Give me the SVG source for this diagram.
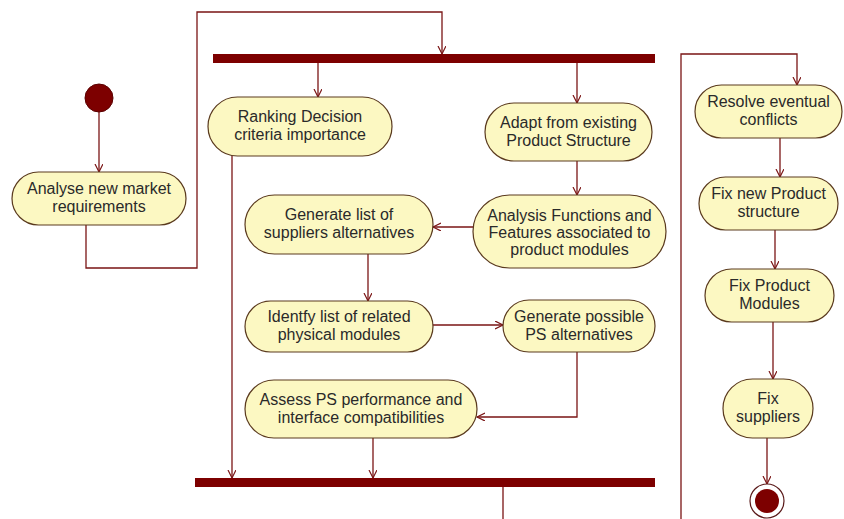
<svg xmlns="http://www.w3.org/2000/svg" width="844" height="519" viewBox="0 0 844 519">
<defs>
<marker id="arr" markerWidth="10" markerHeight="10" refX="8" refY="4" orient="auto" markerUnits="userSpaceOnUse">
<path d="M0,0 L8,4 L0,8" fill="none" stroke="#7a1515" stroke-width="1.2"/>
</marker>
<style>
.act{fill:#fcf8c2;stroke:#5a3a1e;stroke-width:1.2}
.bar{fill:#7d0000}
.t{font-family:"Liberation Sans",Arial,sans-serif;font-size:16px;fill:#2a2a2a;text-anchor:middle}
.c{fill:none;stroke:#7a1515;stroke-width:1.3}
</style>
</defs>
<rect width="844" height="519" fill="#ffffff"/>
<g id="connectors">
<path class="c" d="M99,112 V172" marker-end="url(#arr)"/>
<path class="c" d="M86,225 V268 H197 V12 H442 V54" marker-end="url(#arr)"/>
<path class="c" d="M318,63 V97" marker-end="url(#arr)"/>
<path class="c" d="M577,63 V103" marker-end="url(#arr)"/>
<path class="c" d="M577,161 V195" marker-end="url(#arr)"/>
<path class="c" d="M473,227 H433" marker-end="url(#arr)"/>
<path class="c" d="M368,254 V301" marker-end="url(#arr)"/>
<path class="c" d="M433,325 H503" marker-end="url(#arr)"/>
<path class="c" d="M577,352 V417 H477" marker-end="url(#arr)"/>
<path class="c" d="M373,438 V478" marker-end="url(#arr)"/>
<path class="c" d="M232,156 V478" marker-end="url(#arr)"/>
<path class="c" d="M503,487 V530 H681 V54 H797 V85" marker-end="url(#arr)"/>
<path class="c" d="M780,138 V177" marker-end="url(#arr)"/>
<path class="c" d="M775,230 V269" marker-end="url(#arr)"/>
<path class="c" d="M773,322 V379" marker-end="url(#arr)"/>
<path class="c" d="M767,438 V484" marker-end="url(#arr)"/>
</g>
<g id="start"><circle cx="99" cy="98" r="14" fill="#7d0000" stroke="#5a0000"/></g>
<g id="fork"><rect class="bar" x="213" y="54" width="442" height="9"/></g>
<g id="join"><rect class="bar" x="195" y="478" width="460" height="9"/></g>
<g id="analyse"><rect class="act" x="12" y="172" width="174" height="53" rx="26.5"/>
<text class="t" x="99" y="194">Analyse new market</text><text class="t" x="99" y="212">requirements</text></g>
<g id="ranking"><rect class="act" x="208" y="97" width="184" height="59" rx="29.5"/>
<text class="t" x="300" y="122">Ranking Decision</text><text class="t" x="300" y="140">criteria importance</text></g>
<g id="adapt"><rect class="act" x="485" y="103" width="167" height="58" rx="29"/>
<text class="t" x="568.5" y="128">Adapt from existing</text><text class="t" x="568.5" y="146">Product Structure</text></g>
<g id="genlist"><rect class="act" x="245" y="195" width="188" height="59" rx="29.5"/>
<text class="t" x="339" y="220">Generate list of</text><text class="t" x="339" y="238">suppliers alternatives</text></g>
<g id="analysis"><rect class="act" x="473" y="195" width="193" height="73" rx="36.5"/>
<text class="t" x="569.5" y="221">Analysis Functions and</text><text class="t" x="569.5" y="238">Features associated to</text><text class="t" x="569.5" y="255">product modules</text></g>
<g id="identify"><rect class="act" x="245" y="301" width="188" height="51" rx="25.5"/>
<text class="t" x="339" y="322">Identfy list of related</text><text class="t" x="339" y="340">physical modules</text></g>
<g id="genposs"><rect class="act" x="503" y="300" width="152" height="52" rx="26"/>
<text class="t" x="579" y="322">Generate possible</text><text class="t" x="579" y="340">PS alternatives</text></g>
<g id="assess"><rect class="act" x="245" y="380" width="232" height="58" rx="29"/>
<text class="t" x="361" y="405">Assess PS performance and</text><text class="t" x="361" y="423">interface compatibilities</text></g>
<g id="resolve"><rect class="act" x="695" y="85" width="147" height="53" rx="26.5"/>
<text class="t" x="768.5" y="107">Resolve eventual</text><text class="t" x="768.5" y="125">conflicts</text></g>
<g id="fixnew"><rect class="act" x="699" y="177" width="139" height="53" rx="26.5"/>
<text class="t" x="768.5" y="199">Fix new Product</text><text class="t" x="768.5" y="217">structure</text></g>
<g id="fixmod"><rect class="act" x="705" y="269" width="129" height="53" rx="26.5"/>
<text class="t" x="769.5" y="291">Fix Product</text><text class="t" x="769.5" y="309">Modules</text></g>
<g id="fixsup"><rect class="act" x="723" y="379" width="90" height="59" rx="29.5"/>
<text class="t" x="768" y="404">Fix</text><text class="t" x="768" y="422">suppliers</text></g>
<g id="final"><circle cx="767" cy="501" r="17" fill="#ffffff" stroke="#5a1a1a" stroke-width="1.2"/><circle cx="767" cy="501" r="12" fill="#7d0000"/></g>
</svg>
